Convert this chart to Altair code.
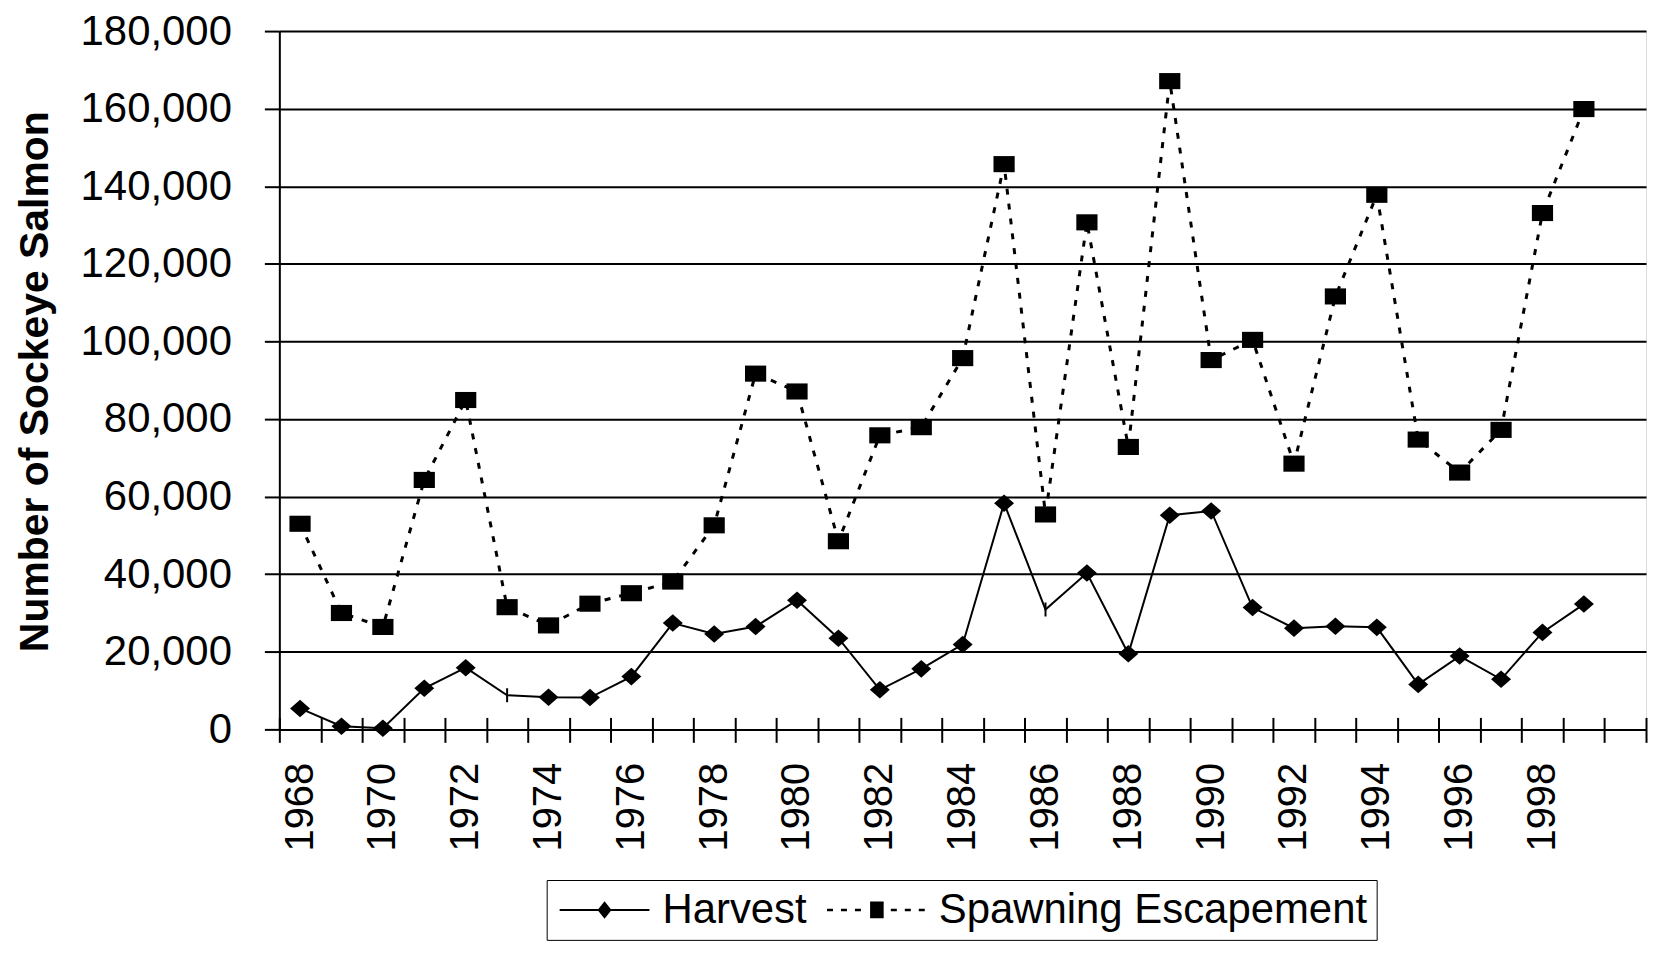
import altair as alt
import pandas as pd

# ---- data ----
years = [str(y) for y in range(1968, 2000)]
axis_years = years + ["2000"]  # Excel category axis has one empty slot at the end

harvest = [5400, 800, 300, 10600, 15900, 8800, 8300, 8200, 13600, 27400,
           24600, 26500, 33300, 23500, 10200, 15600, 21900, 58300, 30900, 40300,
           19500, 55200, 56300, 31400, 26100, 26600, 26300, 11600, 18900, 12900,
           25000, 32300]
harvest_marker_tick = ["1973", "1986"]

spawning = [53000, 30000, 26400, 64300, 84900, 31500, 26800, 32400, 35100, 38100,
            52600, 91700, 87100, 48500, 75800, 77900, 95700, 145700, 55400, 130700,
            72800, 167100, 95200, 100400, 68500, 111600, 137800, 74700, 66200, 77200,
            133100, 159900]

series_names = ["Harvest", "Spawning Escapement"]

rows = []
for y, h, s in zip(years, harvest, spawning):
    rows.append({"year": y, "series": series_names[0], "value": h,
                 "marker": "tick" if y in harvest_marker_tick else "diamond"})
    rows.append({"year": y, "series": series_names[1], "value": s, "marker": "square"})
df = pd.DataFrame(rows)

FONT = "Liberation Sans"

# custom symbol paths
diamond_path = "M-1,0L0,-0.88L1,0L0,0.88Z"
square_path = "M-1.25,-0.95H1.25V0.95H-1.25Z"
tick_path = "M0,-1V1"
legend_harvest = ("M-0.85,-0.05H3.65V0.05H-0.85Z"
                  "M1.05,0L1.4,-0.44L1.75,0L1.4,0.44Z")
legend_spawn = ("M-1.3,-0.06H-1.0V0.06H-1.3Z"
                "M-0.6,-0.06H-0.3V0.06H-0.6Z"
                "M0.1,-0.06H0.4V0.06H0.1Z"
                "M1.9,-0.06H2.2V0.06H1.9Z"
                "M2.6,-0.06H2.9V0.06H2.6Z"
                "M3.3,-0.06H3.6V0.06H3.3Z"
                "M0.86,-0.42H1.54V0.42H0.86Z")

x_scale = alt.Scale(type="band", domain=axis_years, paddingInner=0, paddingOuter=0)
y_scale = alt.Scale(domain=[0, 180000], nice=False)

label_expr = ("(toNumber(datum.value) % 2 == 0 && toNumber(datum.value) < 2000) "
              "? datum.value : ''")

main_x_axis = alt.Axis(
    title=None, labelExpr=label_expr, labelAngle=270, labelAlign="right",
    labelBaseline="middle", labelFontSize=40, labelFont=FONT, labelColor="black",
    labelPadding=20, tickSize=13, tickWidth=2, tickColor="black", tickBand="extent",
    domainColor="black", domainWidth=2, grid=False, labelOverlap=False,
)
cross_x_axis = alt.Axis(
    title=None, labels=False, domain=False, orient="bottom", offset=-12,
    tickSize=12, tickWidth=2, tickColor="black", tickBand="extent", grid=False,
)

y_axis = alt.Axis(
    title="Number of Sockeye Salmon", titleFont=FONT, titleFontSize=41,
    titleFontWeight="bold", titleColor="black", titleAngle=270,
    titleX=-232, titleY=351, titleAlign="center", titleBaseline="alphabetic",
    values=list(range(0, 180001, 20000)),
    labelExpr="format(datum.value, ',')",
    labelFont=FONT, labelFontSize=42, labelColor="black", labelPadding=33,
    tickSize=15, tickWidth=2, tickColor="black",
    domainColor="black", domainWidth=2,
    grid=True, gridColor="black", gridWidth=2, gridOpacity=1,
)

def X(axis=None):
    return alt.X("year:N", scale=x_scale, axis=axis)

Y = alt.Y("value:Q", scale=y_scale, axis=y_axis)

base = alt.Chart(df)

line_h = base.transform_filter(alt.datum.series == "Harvest").mark_line(
    color="black", strokeWidth=2).encode(x=X(main_x_axis), y=Y)

line_s = base.transform_filter(alt.datum.series == "Spawning Escapement").mark_line(
    color="black", strokeWidth=3, strokeDash=[6, 9]).encode(x=X(cross_x_axis), y=Y)

pts_h = base.transform_filter(
    (alt.datum.series == "Harvest") & (alt.datum.marker == "diamond")
).mark_point(shape=diamond_path, filled=True, color="black", size=400, opacity=1).encode(
    x=X(), y=Y)

pts_tick = base.transform_filter(
    (alt.datum.series == "Harvest") & (alt.datum.marker == "tick")
).mark_point(shape=tick_path, filled=False, color="black", strokeWidth=2, size=196,
             opacity=1).encode(x=X(), y=Y)

pts_s = base.transform_filter(alt.datum.series == "Spawning Escapement").mark_point(
    shape=square_path, filled=True, color="black", size=289, opacity=1).encode(
    x=X(), y=Y)

legend_layer = base.transform_filter("false").mark_point(
    filled=True, color="black", size=1600, opacity=1).encode(
    x=X(), y=Y,
    shape=alt.Shape("series:N",
                    scale=alt.Scale(domain=series_names,
                                    range=[legend_harvest, legend_spawn]),
                    legend=alt.Legend(
                        title=None, orient="none", legendX=268, legendY=851,
                        direction="horizontal", columns=2, columnPadding=17,
                        padding=9, strokeColor="black",
                        labelFont=FONT, labelFontSize=42, labelColor="black",
                        labelLimit=700, labelOffset=65,
                        symbolSize=1600, symbolFillColor="black",
                        symbolOpacity=1,
                    )),
)

chart = alt.layer(line_h, line_s, pts_h, pts_tick, pts_s, legend_layer).resolve_axis(
    x="independent"
).properties(
    width=1370, height=700,
    autosize=alt.AutoSizeParams(type="none"),
    padding={"left": 272, "top": 22, "right": 4, "bottom": 211},
).configure_view(stroke="black", strokeWidth=2).configure(background="white")

chart.save("out.html", embed_options={"renderer": "svg", "actions": False})
